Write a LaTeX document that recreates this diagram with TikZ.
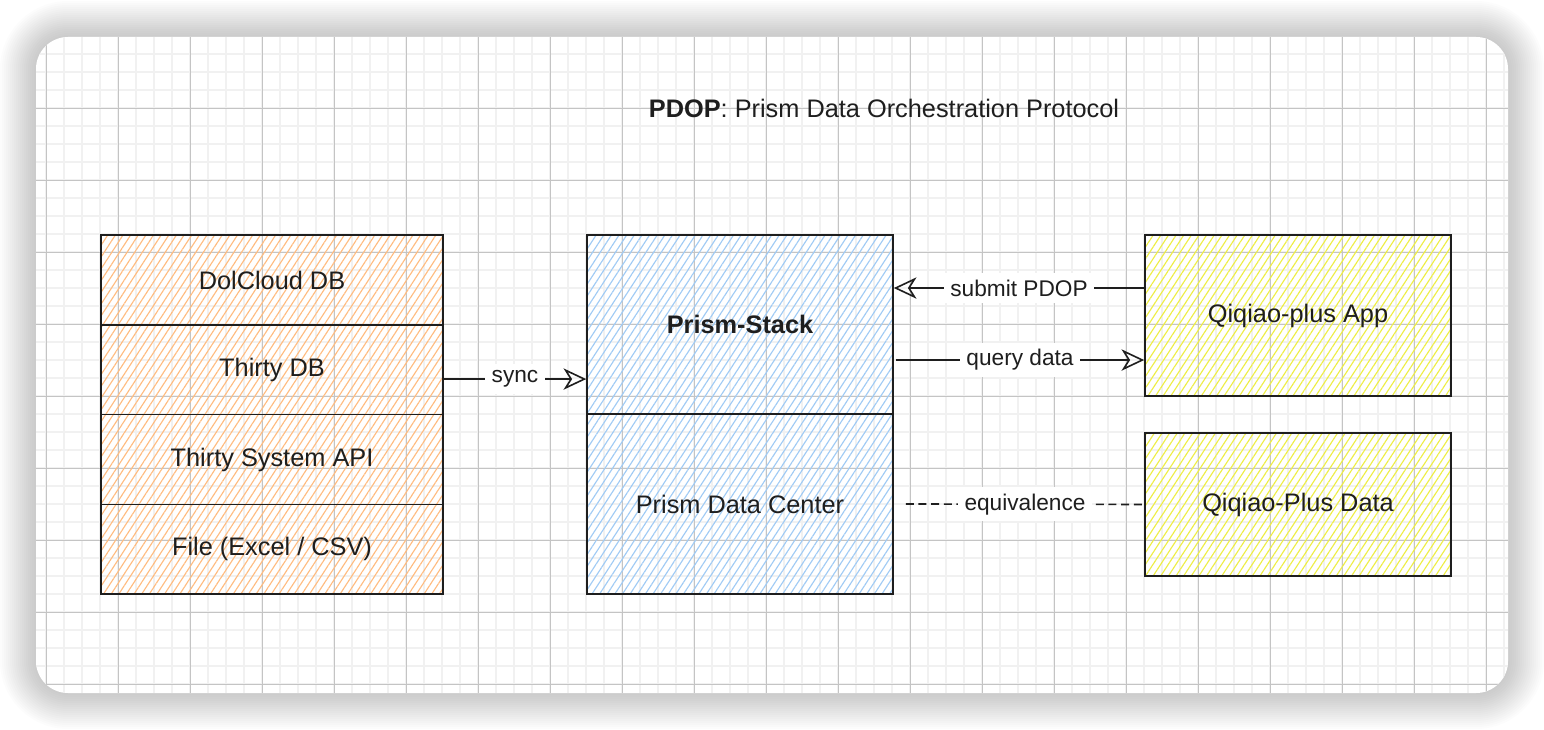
\documentclass[tikz,border=0pt]{standalone}
\usepackage{fontspec}
\setmainfont{Liberation Sans}
\usepackage{tikz}
\usetikzlibrary{calc}
\usetikzlibrary{arrows.meta}
\usetikzlibrary{patterns.meta}
\definecolor{ink}{HTML}{1E1E1E}
\definecolor{hatchorange}{HTML}{FFBC80}
\definecolor{hatchblue}{HTML}{A0CBF5}
\definecolor{hatchyellow}{HTML}{EEEE45}
\definecolor{minorgrid}{HTML}{F1F1F1}
\definecolor{majorgrid}{HTML}{C4C4C4}
\tikzstyle{sketchbox} = [rectangle, 
draw=ink, 
line width=1.2pt, 
text=ink, 
text centered, 
font=\fontsize{19}{22}\selectfont]
\tikzstyle{source} = [sketchbox, 
minimum width=256.5pt, 
minimum height=67.3pt, 
pattern={Lines[angle=57,distance=4.8pt,line width=0.85pt]}, 
pattern color=hatchorange]
\tikzstyle{prism} = [sketchbox, 
minimum width=229.5pt, 
minimum height=134.6pt, 
pattern={Lines[angle=57,distance=4.8pt,line width=0.85pt]}, 
pattern color=hatchblue]
\tikzstyle{qiqiao} = [sketchbox, 
minimum width=229.5pt, 
pattern={Lines[angle=57,distance=4.8pt,line width=0.85pt]}, 
pattern color=hatchyellow]
\tikzstyle{conlabel} = [fill=white, text=ink, inner sep=5pt, font=\fontsize{17}{20}\selectfont]
\tikzstyle{arrow} = [line width=1.2pt, draw=ink, -{Stealth[open, length=17pt, width=16pt, inset=5pt]}]
\tikzstyle{equiv} = [line width=1.2pt, draw=ink, dash pattern=on 6pt off 3.5pt]

\begin{document}
\begin{tikzpicture} [x=0.75pt, y=-0.75pt, node distance=67.3pt]
    \useasboundingbox (0,0) rectangle (1544,730);

    % card with soft shadow
    \foreach \i in {1,...,18} {
        \pgfmathsetmacro\rr{24+1.5*\i}
        \fill [black, opacity=0.012, rounded corners=\rr pt] (36-2*\i,37-2*\i) rectangle (1508+2*\i,693+2*\i);
    }
    \fill [white, rounded corners=24pt] (36,37) rectangle (1508,693);
    \begin{scope}
        \clip [rounded corners=24pt] (36,37) rectangle (1508,693);
        \foreach \x in {28,46,...,1510} \draw [minorgrid, line width=1.1pt] (\x,37) -- (\x,693);
        \foreach \y in {36,54,...,700} \draw [minorgrid, line width=1.1pt] (36,\y) -- (1508,\y);
        \foreach \x in {46,118,...,1510} \draw [majorgrid, line width=0.7pt] (\x,37) -- (\x,693);
        \foreach \y in {36,108,...,700} \draw [majorgrid, line width=0.7pt] (36,\y) -- (1508,\y);
    \end{scope}

    \node (title) at (884,108) [text=ink, font=\fontsize{19}{22}\selectfont] {\textbf{PDOP}: Prism Data Orchestration Protocol};

    \node (dolcloud) [source] at (272,280) {DolCloud DB};
    \node (thirty) [source, below of=dolcloud] {Thirty DB};
    \node (api) [source, below of=thirty] {Thirty System API};
    \node (file) [source, below of=api] {File (Excel / CSV)};

    \node (stack) [prism] at (740,324.5) {\textbf{Prism-Stack}};
    \node (center) [prism, below of=stack, node distance=134.6pt] {Prism Data Center};

    \node (app) [qiqiao, minimum height=120.75pt] at (1298,315.5) {Qiqiao-plus App};
    \node (qdata) [qiqiao, minimum height=107.25pt] at (1298,504.5) {Qiqiao-Plus Data};

    \coordinate (syncstart) at ([yshift=-7pt]thirty.east);
    \coordinate (submitstart) at ([yshift=20.6pt]app.west);
    \coordinate (queryend) at ([yshift=-33.4pt]app.west);

    \draw [arrow] (syncstart) -- node[conlabel] {sync} (syncstart -| stack.west);
    \draw [arrow] (submitstart) -- node[conlabel] {submit PDOP} (submitstart -| stack.east);
    \draw [arrow] ([xshift=1.5pt]queryend -| stack.east) -- node[conlabel] {query data} (queryend);
    \draw [equiv] ([xshift=9pt]center.east) -- node[conlabel] {equivalence} (qdata.west);

\end{tikzpicture}
\end{document}
